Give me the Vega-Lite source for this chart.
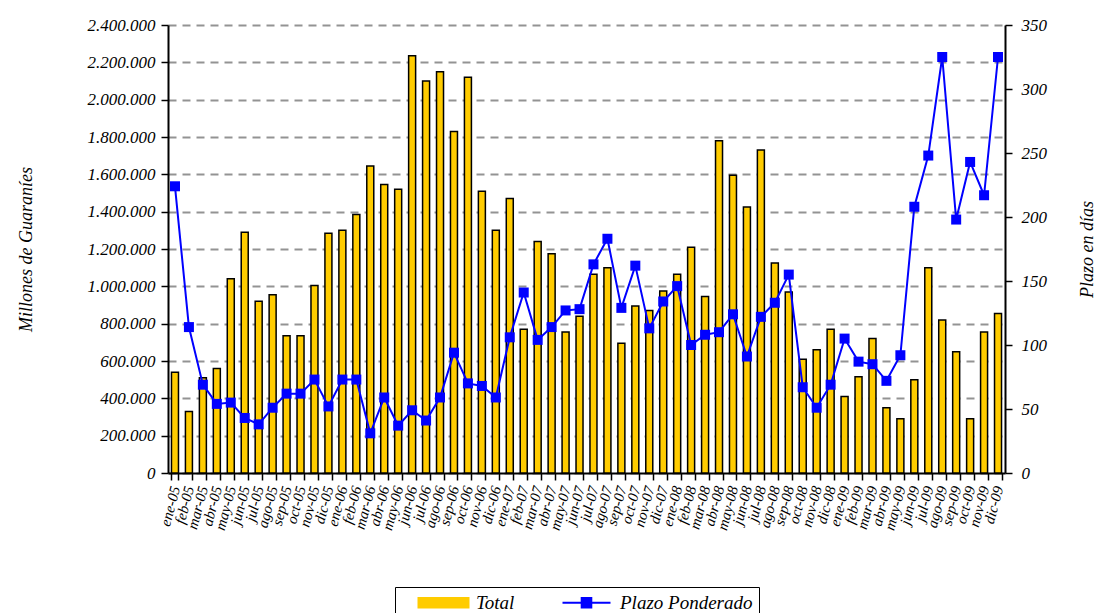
{
  "$schema": "https://vega.github.io/schema/vega-lite/v6.json",
  "width": 837,
  "height": 448,
  "autosize": "none",
  "padding": {"left": 168, "top": 25, "right": 95, "bottom": 140},
  "background": "white",
  "config": {
    "view": {"stroke": null},
    "locale": {"number": {"decimal": ",", "thousands": ".", "grouping": [3], "currency": ["", ""]}},
    "font": "Liberation Serif",
    "axis": {
      "labelFont": "Liberation Serif",
      "labelFontStyle": "italic",
      "titleFont": "Liberation Serif",
      "titleFontStyle": "italic",
      "titleFontWeight": "normal",
      "labelColor": "black",
      "titleColor": "black",
      "domainColor": "black",
      "tickColor": "black",
      "domainWidth": 2,
      "tickWidth": 1.5
    }
  },
  "data": {
    "values": [
      {"mes": "ene-05", "total": 540000, "plazo": 224},
      {"mes": "feb-05", "total": 330000, "plazo": 114},
      {"mes": "mar-05", "total": 510000, "plazo": 69},
      {"mes": "abr-05", "total": 560000, "plazo": 54},
      {"mes": "may-05", "total": 1040000, "plazo": 55},
      {"mes": "jun-05", "total": 1290000, "plazo": 43},
      {"mes": "jul-05", "total": 920000, "plazo": 38},
      {"mes": "ago-05", "total": 955000, "plazo": 51},
      {"mes": "sep-05", "total": 735000, "plazo": 62},
      {"mes": "oct-05", "total": 735000, "plazo": 62},
      {"mes": "nov-05", "total": 1005000, "plazo": 73},
      {"mes": "dic-05", "total": 1285000, "plazo": 52},
      {"mes": "ene-06", "total": 1300000, "plazo": 73},
      {"mes": "feb-06", "total": 1385000, "plazo": 73},
      {"mes": "mar-06", "total": 1645000, "plazo": 31},
      {"mes": "abr-06", "total": 1545000, "plazo": 59},
      {"mes": "may-06", "total": 1520000, "plazo": 37},
      {"mes": "jun-06", "total": 2235000, "plazo": 49},
      {"mes": "jul-06", "total": 2100000, "plazo": 41},
      {"mes": "ago-06", "total": 2150000, "plazo": 59},
      {"mes": "sep-06", "total": 1830000, "plazo": 94},
      {"mes": "oct-06", "total": 2120000, "plazo": 70},
      {"mes": "nov-06", "total": 1510000, "plazo": 68},
      {"mes": "dic-06", "total": 1300000, "plazo": 59},
      {"mes": "ene-07", "total": 1470000, "plazo": 106},
      {"mes": "feb-07", "total": 770000, "plazo": 141},
      {"mes": "mar-07", "total": 1240000, "plazo": 104},
      {"mes": "abr-07", "total": 1175000, "plazo": 114},
      {"mes": "may-07", "total": 755000, "plazo": 127},
      {"mes": "jun-07", "total": 840000, "plazo": 128},
      {"mes": "jul-07", "total": 1065000, "plazo": 163},
      {"mes": "ago-07", "total": 1100000, "plazo": 183},
      {"mes": "sep-07", "total": 695000, "plazo": 129},
      {"mes": "oct-07", "total": 895000, "plazo": 162},
      {"mes": "nov-07", "total": 870000, "plazo": 113},
      {"mes": "dic-07", "total": 975000, "plazo": 134},
      {"mes": "ene-08", "total": 1065000, "plazo": 146},
      {"mes": "feb-08", "total": 1210000, "plazo": 100},
      {"mes": "mar-08", "total": 945000, "plazo": 108},
      {"mes": "abr-08", "total": 1780000, "plazo": 110},
      {"mes": "may-08", "total": 1595000, "plazo": 124},
      {"mes": "jun-08", "total": 1425000, "plazo": 91},
      {"mes": "jul-08", "total": 1730000, "plazo": 122},
      {"mes": "ago-08", "total": 1125000, "plazo": 133},
      {"mes": "sep-08", "total": 970000, "plazo": 155},
      {"mes": "oct-08", "total": 610000, "plazo": 67},
      {"mes": "nov-08", "total": 660000, "plazo": 51},
      {"mes": "dic-08", "total": 770000, "plazo": 69},
      {"mes": "ene-09", "total": 410000, "plazo": 105},
      {"mes": "feb-09", "total": 515000, "plazo": 87},
      {"mes": "mar-09", "total": 720000, "plazo": 85},
      {"mes": "abr-09", "total": 350000, "plazo": 72},
      {"mes": "may-09", "total": 290000, "plazo": 92},
      {"mes": "jun-09", "total": 500000, "plazo": 208},
      {"mes": "jul-09", "total": 1100000, "plazo": 248},
      {"mes": "ago-09", "total": 820000, "plazo": 325},
      {"mes": "sep-09", "total": 650000, "plazo": 198},
      {"mes": "oct-09", "total": 290000, "plazo": 243},
      {"mes": "nov-09", "total": 755000, "plazo": 217},
      {"mes": "dic-09", "total": 855000, "plazo": 325}
    ]
  },
  "layer": [
    {
      "mark": {"type": "bar", "stroke": "black", "strokeWidth": 1.5, "size": 7},
      "encoding": {
        "x": {
          "field": "mes", "type": "nominal", "sort": null,
          "scale": {"paddingInner": 0.5, "paddingOuter": 0.25},
          "axis": {
            "title": null, "labelAngle": -75, "labelFontSize": 15, "labelAlign": "right",
            "labelBaseline": "middle", "tickBand": "extent", "tickSize": 7, "labelPadding": 6,
            "grid": false, "labelOverlap": false
          }
        },
        "y": {
          "field": "total", "type": "quantitative",
          "scale": {"domain": [0, 2400000], "nice": false},
          "axis": {
            "values": [0, 200000, 400000, 600000, 800000, 1000000, 1200000, 1400000, 1600000, 1800000, 2000000, 2200000, 2400000],
            "format": ",d", "labelFontSize": 17, "tickSize": 7, "labelPadding": 6,
            "grid": true, "gridDash": [8, 6], "gridColor": "#939393", "gridWidth": 2,
            "title": "Millones de Guaraníes", "titleFontSize": 18, "titleAngle": 270, "titlePadding": 52
          }
        },
        "color": {
          "datum": "Total",
          "scale": {"domain": ["Total", "Plazo Ponderado"], "range": ["#FFCC00", "#0000FF"]},
          "legend": {
            "title": null, "orient": "none", "legendX": 227, "legendY": 562, "direction": "horizontal",
            "strokeColor": "black", "fillColor": "white", "padding": 6,
            "labelFont": "Liberation Serif", "labelFontStyle": "italic", "labelFontSize": 19, "labelColor": "black",
            "symbolSize": 256, "columnPadding": 30, "labelOffset": 56,
            "symbolType": {"expr": "datum.value === 'Total' ? 'M1,-0.6H7.25V0.6H1Z' : 'M1,0H7M3.4,-0.6H4.6V0.6H3.4Z'"},
            "symbolFillColor": {"expr": "datum.value === 'Total' ? '#FFCC00' : '#0000FF'"},
            "symbolStrokeColor": {"expr": "datum.value === 'Total' ? '#000000' : '#0000FF'"},
            "symbolStrokeWidth": 2,
            "symbolOpacity": 1
          }
        }
      }
    },
    {
      "mark": {"type": "line", "strokeWidth": 2, "point": {"shape": "square", "size": 100, "filled": true, "opacity": 1}},
      "encoding": {
        "x": {"field": "mes", "type": "nominal", "sort": null},
        "y": {
          "field": "plazo", "type": "quantitative",
          "scale": {"domain": [0, 350], "nice": false},
          "axis": {
            "orient": "right", "values": [0, 50, 100, 150, 200, 250, 300, 350],
            "labelFontSize": 17, "tickSize": 7, "labelPadding": 9, "grid": false,
            "title": "Plazo en días", "titleFontSize": 18, "titleAngle": 270, "titlePadding": 50
          }
        },
        "color": {"datum": "Plazo Ponderado"}
      }
    }
  ],
  "resolve": {"scale": {"y": "independent"}}
}
